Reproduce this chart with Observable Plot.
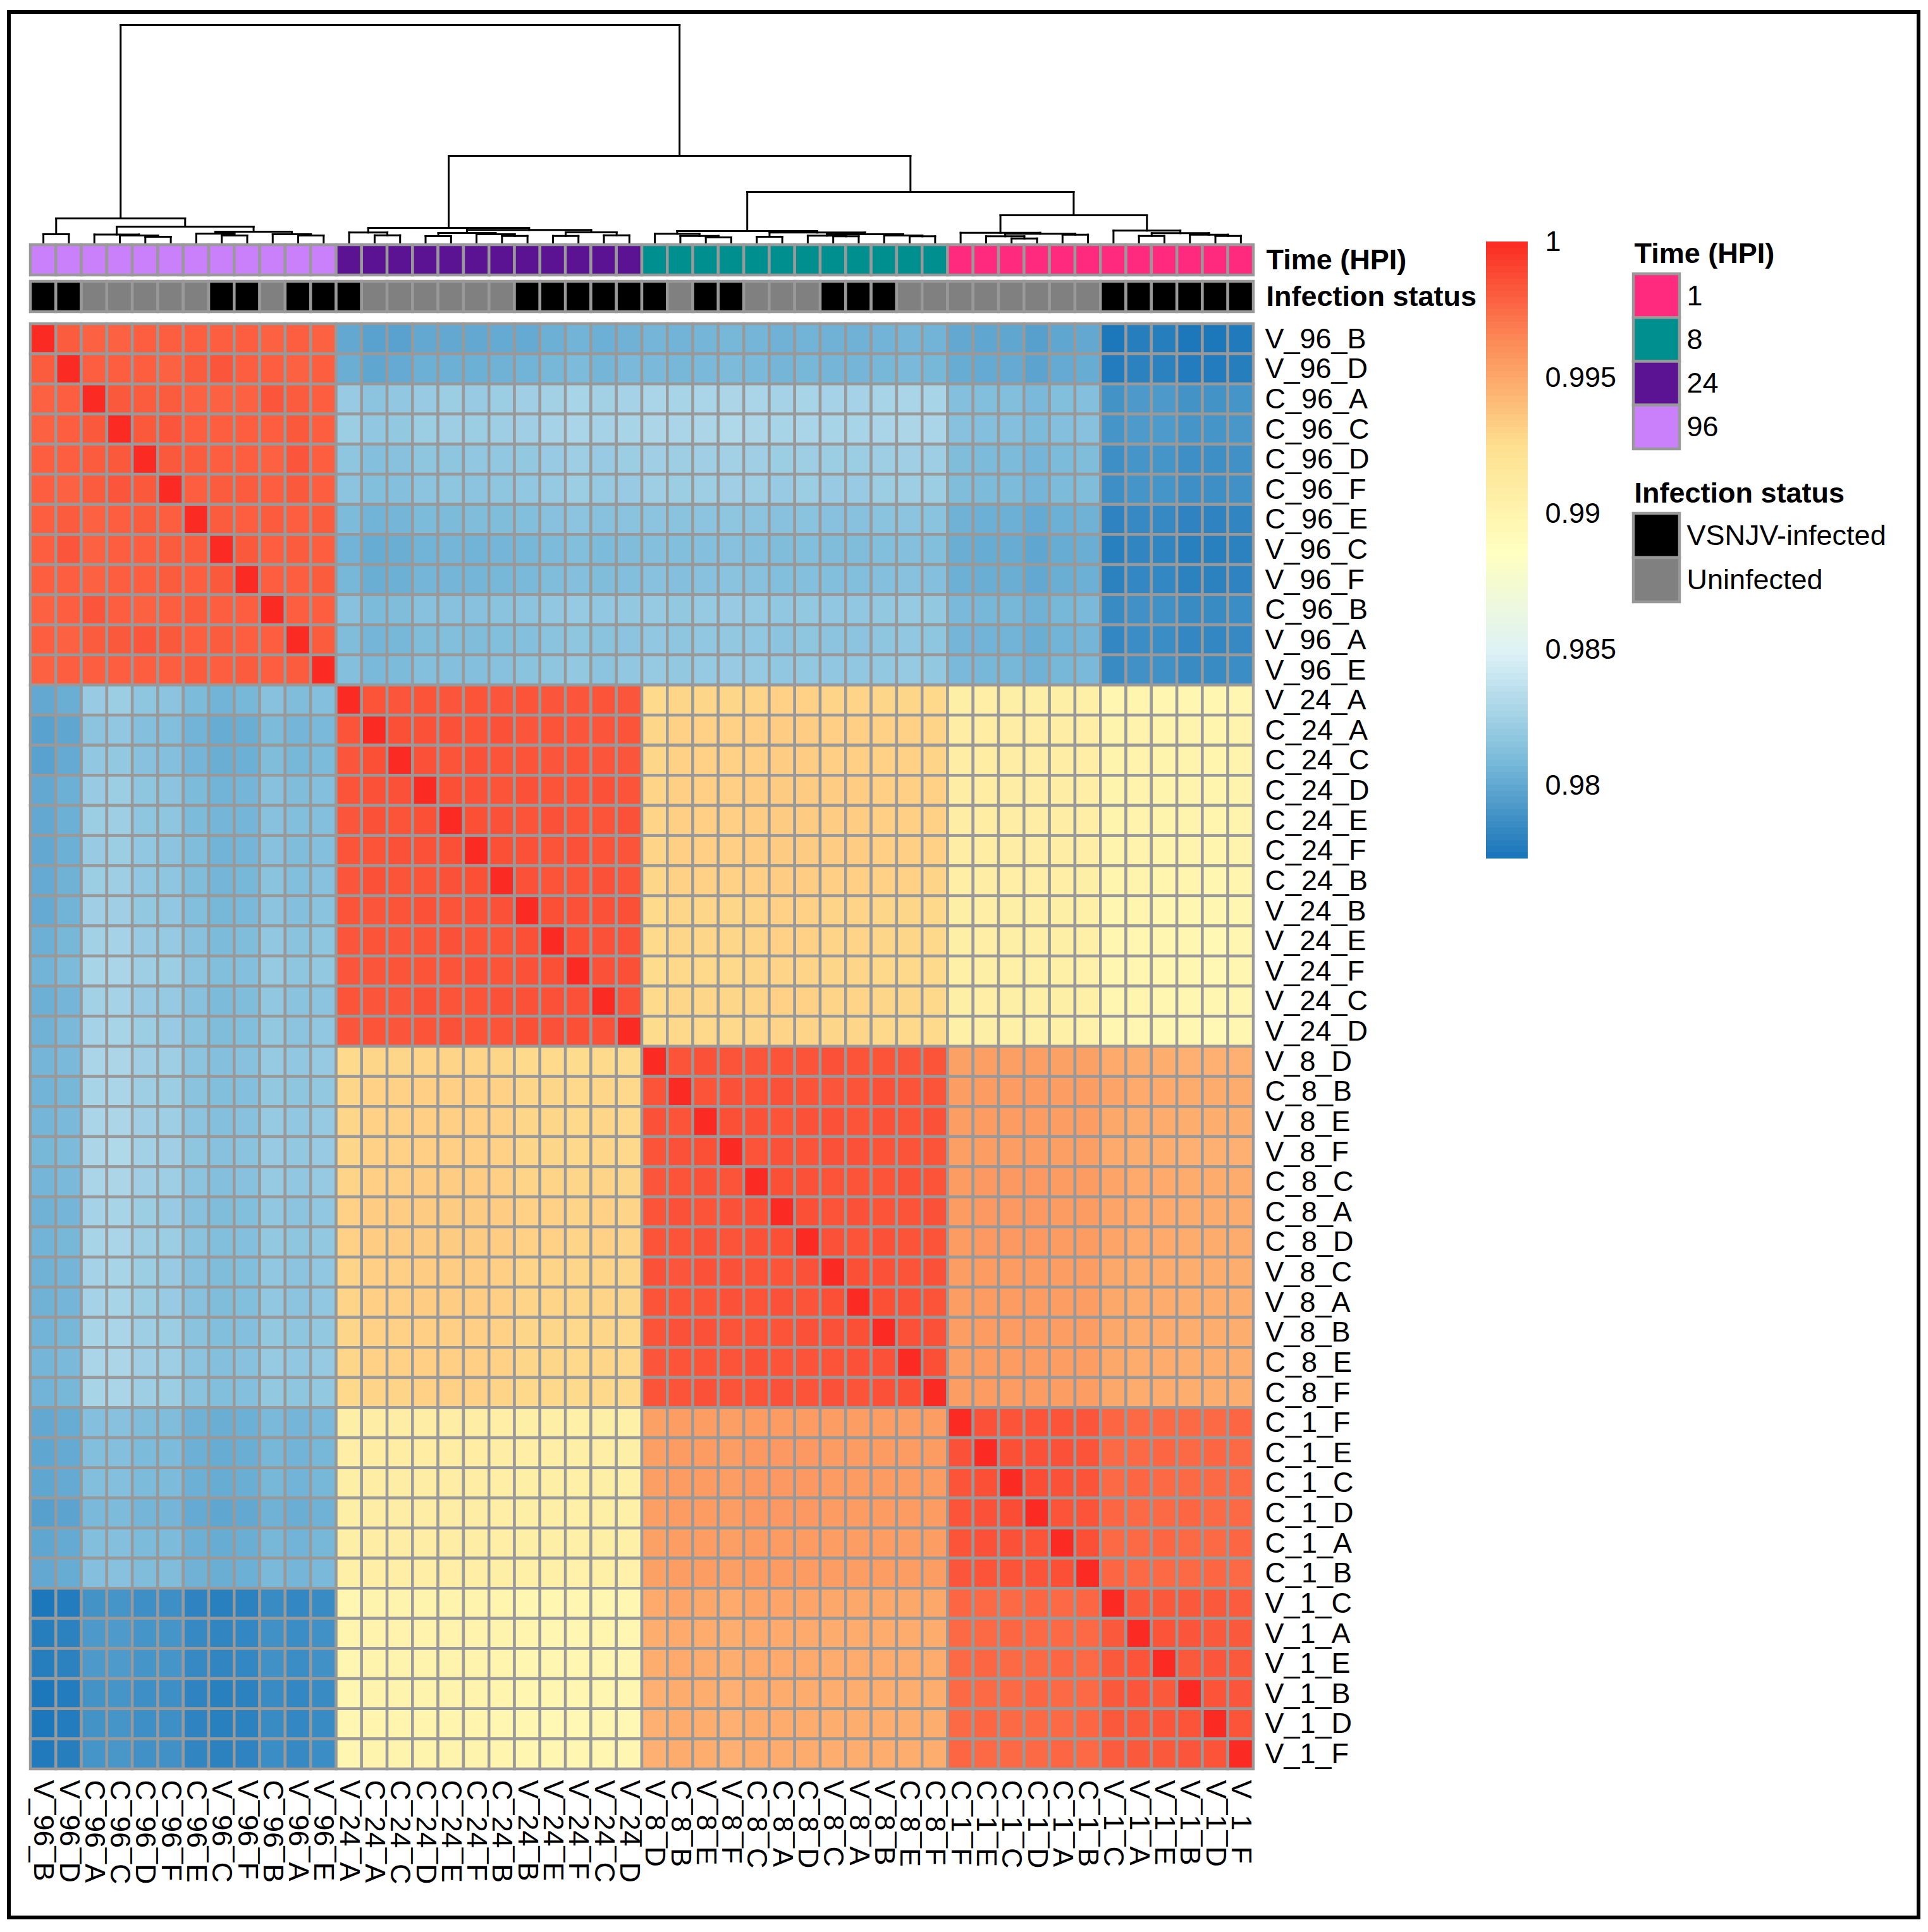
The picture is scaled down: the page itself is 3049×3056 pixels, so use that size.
<!DOCTYPE html>
<html><head><meta charset="utf-8">
<script src="https://cdn.jsdelivr.net/npm/d3@7"></script>
<script src="https://cdn.jsdelivr.net/npm/@observablehq/plot@0.6"></script>
<style>
body{margin:0;background:#fff;}
#wrap{position:relative;width:3049px;height:3056px;background:#fff;overflow:hidden;}
#frame{position:absolute;left:11px;top:16px;width:3026px;height:3020px;border:6px solid #000;box-sizing:border-box;}
</style></head><body><div id="wrap"><div id="frame"></div></div>
<script>
// ---------------- data ----------------
const sampleLabels = [
 "V_96_B","V_96_D","C_96_A","C_96_C","C_96_D","C_96_F","C_96_E","V_96_C","V_96_F","C_96_B","V_96_A","V_96_E",
 "V_24_A","C_24_A","C_24_C","C_24_D","C_24_E","C_24_F","C_24_B","V_24_B","V_24_E","V_24_F","V_24_C","V_24_D",
 "V_8_D","C_8_B","V_8_E","V_8_F","C_8_C","C_8_A","C_8_D","V_8_C","V_8_A","V_8_B","C_8_E","C_8_F",
 "C_1_F","C_1_E","C_1_C","C_1_D","C_1_A","C_1_B","V_1_C","V_1_A","V_1_E","V_1_B","V_1_D","V_1_F"];
const timeLevels = ["1","8","24","96"];
const timeColors = ["#FF2A7E","#008F8F","#5B1393","#CA80FB"];
const statusLevels = ["VSNJV-infected","Uninfected"];
const statusColors = ["#000000","#808080"];
const annotationTracks = ["Time (HPI)","Infection status"];
const corrRange = [0.9773, 1];
const corrRamp = ["#1874B9","#7FBDDB","#DDF2F7","#FFFFBF","#FEE090","#FC8D59","#FB2A22"];
const legendTicks = [0.98, 0.985, 0.99, 0.995, 1];
const legendTickLabels = ["0.98","0.985","0.99","0.995","1"];
// Pearson correlation (x 1e-4), lower triangle incl. diagonal, rows in sampleLabels order
const corrLower = [
[10000],
[9981,10000],
[9979,9980,10000],
[9979,9980,9982,10000],
[9980,9980,9981,9982,10000],
[9980,9979,9981,9983,9982,10000],
[9980,9981,9979,9980,9981,9980,10000],
[9980,9983,9979,9980,9980,9981,9981,10000],
[9980,9980,9979,9980,9980,9981,9980,9982,10000],
[9979,9980,9983,9980,9979,9980,9981,9980,9980,10000],
[9980,9979,9981,9982,9983,9982,9980,9981,9980,9980,10000],
[9979,9980,9980,9980,9980,9980,9981,9980,9981,9980,9981,10000],
[9800,9803,9821,9822,9817,9816,9810,9806,9808,9814,9811,9813,10000],
[9797,9799,9816,9818,9813,9812,9806,9802,9803,9810,9807,9809,9984,10000],
[9797,9801,9818,9819,9814,9813,9807,9803,9804,9811,9808,9810,9983,9986,10000],
[9800,9804,9821,9822,9817,9816,9810,9806,9807,9814,9811,9813,9984,9985,9985,10000],
[9800,9804,9822,9823,9817,9817,9810,9807,9807,9814,9812,9813,9983,9985,9984,9986,10000],
[9800,9804,9821,9822,9818,9816,9811,9806,9807,9814,9811,9813,9984,9984,9985,9985,9986,10000],
[9801,9805,9822,9823,9818,9817,9811,9807,9808,9815,9812,9814,9983,9985,9984,9984,9985,9986,10000],
[9801,9806,9824,9824,9819,9818,9812,9808,9809,9816,9813,9815,9984,9983,9984,9985,9984,9985,9985,10000],
[9804,9808,9825,9826,9821,9820,9814,9810,9811,9818,9815,9817,9983,9984,9983,9984,9985,9984,9984,9986,10000],
[9806,9810,9827,9828,9823,9822,9816,9812,9813,9820,9817,9819,9983,9983,9984,9984,9984,9985,9984,9985,9986,10000],
[9804,9807,9825,9826,9821,9820,9814,9810,9811,9818,9815,9816,9984,9983,9983,9985,9984,9984,9985,9985,9985,9985,10000],
[9805,9809,9826,9827,9822,9821,9815,9811,9812,9819,9816,9818,9983,9984,9983,9984,9985,9984,9984,9986,9985,9986,9985,10000],
[9807,9809,9828,9829,9824,9823,9816,9813,9814,9820,9818,9820,9927,9929,9929,9930,9930,9930,9929,9927,9927,9926,9927,9926,10000],
[9806,9808,9827,9828,9823,9822,9815,9812,9813,9819,9817,9819,9929,9931,9931,9932,9932,9932,9931,9929,9929,9928,9929,9928,9984,10000],
[9807,9809,9828,9829,9824,9823,9816,9813,9814,9820,9818,9820,9929,9931,9931,9932,9932,9932,9931,9929,9929,9928,9929,9928,9985,9984,10000],
[9808,9810,9829,9830,9825,9824,9817,9814,9815,9821,9819,9821,9929,9931,9931,9932,9932,9932,9931,9929,9929,9928,9929,9928,9984,9985,9986,10000],
[9807,9809,9828,9829,9824,9823,9816,9813,9814,9820,9818,9820,9930,9932,9932,9933,9933,9933,9932,9930,9930,9929,9930,9929,9983,9984,9985,9984,10000],
[9805,9807,9826,9827,9822,9821,9814,9811,9812,9818,9816,9818,9931,9933,9933,9934,9934,9934,9933,9931,9931,9930,9931,9930,9984,9985,9984,9985,9986,10000],
[9806,9808,9827,9828,9823,9822,9815,9812,9813,9819,9817,9819,9931,9933,9933,9934,9934,9934,9933,9931,9931,9930,9931,9930,9984,9984,9985,9984,9985,9986,10000],
[9805,9807,9826,9827,9822,9821,9814,9811,9812,9818,9816,9818,9930,9932,9932,9933,9933,9933,9932,9930,9930,9929,9930,9929,9985,9983,9985,9985,9984,9984,9985,10000],
[9805,9807,9826,9827,9822,9821,9814,9811,9812,9818,9816,9818,9930,9932,9932,9933,9933,9933,9932,9930,9930,9929,9930,9929,9984,9984,9984,9985,9984,9985,9984,9986,10000],
[9806,9808,9827,9828,9823,9822,9815,9812,9813,9819,9817,9819,9929,9931,9931,9932,9932,9932,9931,9929,9929,9928,9929,9928,9984,9985,9985,9984,9984,9984,9985,9985,9986,10000],
[9807,9809,9828,9829,9824,9823,9816,9813,9814,9820,9818,9820,9929,9931,9931,9932,9932,9932,9931,9929,9929,9928,9929,9928,9983,9984,9984,9984,9985,9984,9984,9984,9985,9985,10000],
[9806,9808,9827,9828,9823,9822,9815,9812,9813,9819,9817,9819,9928,9930,9930,9931,9931,9931,9930,9928,9928,9927,9928,9927,9984,9984,9985,9984,9984,9985,9984,9985,9984,9985,9986,10000],
[9800,9802,9813,9814,9811,9811,9805,9803,9804,9809,9807,9809,9906,9908,9908,9908,9908,9908,9907,9906,9906,9905,9906,9905,9953,9955,9955,9954,9956,9956,9956,9955,9955,9955,9955,9955,10000],
[9799,9801,9812,9813,9810,9810,9804,9802,9803,9808,9806,9808,9907,9909,9909,9909,9909,9909,9908,9907,9907,9906,9907,9906,9954,9956,9956,9955,9957,9957,9957,9956,9956,9956,9956,9956,9985,10000],
[9799,9801,9812,9813,9810,9810,9804,9802,9803,9808,9806,9808,9906,9908,9908,9908,9908,9908,9907,9906,9906,9905,9906,9905,9954,9956,9956,9955,9957,9957,9957,9956,9956,9956,9956,9956,9984,9986,10000],
[9796,9798,9809,9810,9807,9807,9801,9799,9800,9805,9803,9805,9906,9908,9908,9908,9908,9908,9907,9906,9906,9905,9906,9905,9954,9956,9956,9955,9957,9957,9957,9956,9956,9956,9956,9956,9984,9985,9987,10000],
[9799,9801,9812,9813,9810,9810,9804,9802,9803,9808,9806,9808,9906,9908,9908,9908,9908,9908,9907,9906,9906,9905,9906,9905,9953,9955,9955,9954,9956,9956,9956,9955,9955,9955,9955,9955,9984,9985,9985,9984,10000],
[9800,9802,9813,9814,9811,9811,9805,9803,9804,9809,9807,9809,9905,9907,9907,9907,9907,9907,9906,9905,9905,9904,9905,9904,9953,9955,9955,9954,9956,9956,9956,9955,9955,9955,9955,9955,9983,9984,9984,9984,9986,10000],
[9775,9777,9789,9790,9787,9787,9781,9779,9780,9785,9783,9785,9898,9900,9900,9900,9900,9900,9899,9898,9897,9897,9898,9897,9949,9951,9950,9949,9951,9951,9951,9950,9950,9950,9950,9950,9977,9976,9976,9977,9976,9977,10000],
[9778,9780,9792,9793,9790,9790,9784,9782,9783,9788,9786,9788,9899,9901,9901,9901,9901,9901,9900,9899,9898,9898,9899,9898,9947,9949,9948,9947,9949,9949,9949,9948,9948,9948,9948,9948,9976,9976,9977,9976,9976,9976,9982,10000],
[9778,9780,9792,9793,9790,9790,9784,9782,9783,9788,9786,9788,9898,9900,9900,9900,9900,9900,9899,9898,9897,9897,9898,9897,9947,9949,9948,9947,9949,9949,9949,9948,9948,9948,9948,9948,9976,9977,9976,9976,9977,9976,9982,9984,10000],
[9775,9777,9789,9790,9787,9787,9781,9779,9780,9785,9783,9785,9898,9900,9900,9900,9900,9900,9899,9898,9897,9897,9898,9897,9946,9948,9947,9946,9948,9948,9948,9947,9947,9947,9947,9947,9976,9976,9976,9977,9976,9976,9982,9983,9982,10000],
[9775,9777,9789,9790,9787,9787,9781,9779,9780,9785,9783,9785,9897,9899,9899,9899,9899,9899,9898,9897,9896,9896,9897,9896,9946,9948,9947,9946,9948,9948,9948,9947,9947,9947,9947,9947,9976,9977,9976,9976,9976,9977,9982,9982,9983,9984,10000],
[9776,9778,9790,9791,9788,9788,9782,9780,9781,9786,9784,9786,9898,9900,9900,9900,9900,9900,9899,9898,9897,9897,9898,9897,9946,9948,9947,9946,9948,9948,9948,9947,9947,9947,9947,9947,9977,9976,9976,9976,9977,9976,9981,9982,9982,9983,9984,10000]
];
// column dendrogram: [height, left, right]; leaves are indices into sampleLabels
const dendroTree =
[344,
  [38, [13, 0, 1], [25, [12.5, 2, [11, 3, [9, 4, 5]]], [17, [14, 6, [11, 7, 8]], [13, 9, [11, 10, 11]]]]],
  [137,
    [23, [15.7, 12, [11.3, 13, 14]], [19.7, [15, [10, 15, 16], [13, 17, [10.3, 18, 19]]], [16, [10.3, 20, 21], [11.3, 22, 23]]]],
    [80,
      [18, [13.7, 24, [10.3, 25, [8, 26, 27]]], [15.7, [9, 28, 29], [13, [10.7, 30, [9.7, 31, 32]], [11, 33, [9.7, 34, 35]]]]],
      [43, [15.3, 36, [13.7, [9.7, 37, [6.3, 38, 39]], [12.3, 40, 41]]], [18.7, 42, [14.7, [10.3, 43, 44], [12.3, 45, [10.3, 46, 47]]]]]
    ]
  ]
];

// ---------------- build tables ----------------
const n = sampleLabels.length;
const cells = [];
for (let i = 0; i < n; i++) for (let j = 0; j < n; j++) {
  const v = (j <= i ? corrLower[i][j] : corrLower[j][i]) / 10000;
  cells.push({row: sampleLabels[i], col: sampleLabels[j], value: v});
}
const timeOf = s => s.split("_")[1];
const statusOf = s => s[0] === "V" ? statusLevels[0] : statusLevels[1];
const annoCells = [];
for (const s of sampleLabels) {
  annoCells.push({col: s, track: annotationTracks[0], cat: timeOf(s)});
  annoCells.push({col: s, track: annotationTracks[1], cat: statusOf(s)});
}
const segs = [];
function lay(node) {
  if (typeof node === "number") return {x: node + 0.5, h: 0};
  const [h, a, b] = node;
  const L = lay(a), R = lay(b);
  segs.push({x1: L.x, y1: L.h, x2: L.x, y2: h});
  segs.push({x1: L.x, y1: h, x2: R.x, y2: h});
  segs.push({x1: R.x, y1: R.h, x2: R.x, y2: h});
  return {x: (L.x + R.x) / 2, h};
}
lay(dendroTree);

const colorDomain = d3.range(7).map(k => corrRange[0] + k * (corrRange[1] - corrRange[0]) / 6);
const colorScale = {type: "linear", domain: colorDomain, range: corrRamp, interpolate: "rgb", clamp: true};
const catColor = {domain: [...timeLevels, ...statusLevels], range: [...timeColors, ...statusColors]};

// ---------------- layout ----------------
const W = 3049, H = 3056;
const left = 48, right = 1982;
const FONT = "'Liberation Sans', Arial, Helvetica, sans-serif";
const baseStyle = {background: "transparent", fontFamily: FONT, fontSize: "45px", overflow: "visible", maxWidth: "none"};
const GRID = "#999999", GW = 4.5;
const wrap = document.getElementById("wrap");
function add(svg) { svg.style.position = "absolute"; svg.style.left = "0px"; svg.style.top = "0px"; wrap.appendChild(svg); }

// dendrogram
add(Plot.plot({
  width: W, height: 400, marginLeft: left, marginRight: W - right, marginTop: 39, marginBottom: 17,
  style: baseStyle,
  x: {domain: [0, n], axis: null}, y: {domain: [0, dendroTree[0]], axis: null},
  marks: [Plot.link(segs, {x1: "x1", y1: "y1", x2: "x2", y2: "y2", stroke: "#000", strokeWidth: 3, strokeLinecap: "square"})]
}));

// annotation tracks
add(Plot.plot({
  width: W, height: 500, marginLeft: left, marginRight: W - right, marginTop: 387, marginBottom: 7,
  style: baseStyle,
  x: {domain: sampleLabels, axis: null, padding: 0, round: false},
  y: {domain: annotationTracks, axis: null, paddingInner: 0.1724, paddingOuter: 0, round: false},
  color: catColor,
  marks: [
    Plot.cell(annoCells, {x: "col", y: "track", fill: "cat", stroke: GRID, strokeWidth: GW, inset: 0}),
    Plot.text(annotationTracks, {y: d => d, text: d => d, frameAnchor: "right", textAnchor: "start", dx: 20, fontWeight: "bold", fontSize: 45, fill: "#000"})
  ]
}));

// heatmap
add(Plot.plot({
  width: W, height: H, marginLeft: left, marginRight: W - right, marginTop: 512, marginBottom: H - 2798,
  style: baseStyle,
  x: {domain: sampleLabels, axis: null, padding: 0, round: false},
  y: {domain: sampleLabels, axis: null, padding: 0, round: false},
  color: colorScale,
  marks: [
    Plot.cell(cells, {x: "col", y: "row", fill: "value", stroke: GRID, strokeWidth: GW, inset: 0}),
    Plot.text(sampleLabels, {y: d => d, text: d => d, frameAnchor: "right", textAnchor: "start", dx: 18, fontSize: 45, fill: "#000"}),
    Plot.text(sampleLabels, {x: d => d, text: d => d, frameAnchor: "bottom", textAnchor: "start", lineAnchor: "middle", rotate: 90, dy: 17, fontSize: 45, fill: "#000"})
  ]
}));

// colour bar legend
const nSteps = 100;
const steps = d3.range(nSteps).map(k => {
  const a = corrRange[0] + k * (corrRange[1] - corrRange[0]) / nSteps;
  const b = corrRange[0] + (k + 1) * (corrRange[1] - corrRange[0]) / nSteps;
  return {y1: a, y2: b, mid: (a + b) / 2};
});
add(Plot.plot({
  width: W, height: 1400, marginLeft: 2350, marginRight: W - 2416, marginTop: 382, marginBottom: 1400 - 1358,
  style: baseStyle,
  x: {domain: [0, 1], axis: null}, y: {domain: corrRange, axis: null},
  color: colorScale,
  marks: [
    Plot.rect(steps, {x1: 0, x2: 1, y1: "y1", y2: "y2", fill: "mid", shapeRendering: "crispEdges"}),
    Plot.text(legendTicks, {x: 1, y: d => d, text: legendTickLabels, dx: 27, textAnchor: "start", fontSize: 45, fill: "#000"})
  ]
}));

// Time legend
add(Plot.plot({
  width: W, height: 720, marginLeft: 2583, marginRight: W - 2656, marginTop: 433, marginBottom: 10,
  style: baseStyle,
  y: {domain: timeLevels, axis: null, padding: 0, round: false},
  color: catColor,
  marks: [
    Plot.cell(timeLevels, {y: d => d, fill: d => d, stroke: GRID, strokeWidth: GW, inset: 0}),
    Plot.text(timeLevels, {y: d => d, text: d => d, frameAnchor: "right", textAnchor: "start", dx: 11, fontSize: 45, fill: "#000"}),
    Plot.text([annotationTracks[0]], {frameAnchor: "top-left", text: d => d, textAnchor: "start", lineAnchor: "middle", dy: -32, dx: 1, fontWeight: "bold", fontSize: 45, fill: "#000"})
  ]
}));

// Infection legend
add(Plot.plot({
  width: W, height: 960, marginLeft: 2583, marginRight: W - 2656, marginTop: 812, marginBottom: 8,
  style: baseStyle,
  y: {domain: statusLevels, axis: null, padding: 0, round: false},
  color: catColor,
  marks: [
    Plot.cell(statusLevels, {y: d => d, fill: d => d, stroke: GRID, strokeWidth: GW, inset: 0}),
    Plot.text(statusLevels, {y: d => d, text: d => d, frameAnchor: "right", textAnchor: "start", dx: 11, fontSize: 45, fill: "#000"}),
    Plot.text([annotationTracks[1]], {frameAnchor: "top-left", text: d => d, textAnchor: "start", lineAnchor: "middle", dy: -32, dx: 1, fontWeight: "bold", fontSize: 45, fill: "#000"})
  ]
}));
</script></body></html>
